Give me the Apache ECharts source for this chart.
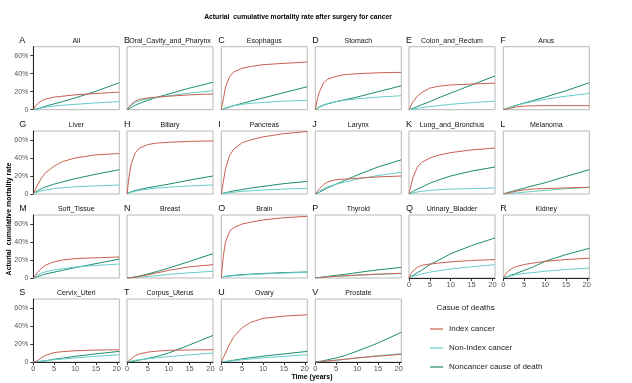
<!DOCTYPE html>
<html><head><meta charset="utf-8">
<script src="https://cdn.jsdelivr.net/npm/echarts@6/dist/echarts.min.js"></script>
<style>html,body{margin:0;padding:0;background:#fff}#c{width:632px;height:383px}</style>
</head><body><div id="c"></div>
<script>
// ---- data ----
const times = [0, 0.5, 1, 2, 3, 5, 7, 10, 15, 20.6];
const panelNames = ['All','Oral_Cavity_and_Pharynx','Esophagus','Stomach','Colon_and_Rectum','Anus',
  'Liver','Biliary','Pancreas','Larynx','Lung_and_Bronchus','Melanoma',
  'Soft_Tissue','Breast','Brain','Thyroid','Urinary_Bladder','Kidney',
  'Cervix_Uteri','Corpus_Uterus','Ovary','Prostate'];
const panelLetters = ['A','B','C','D','E','F','G','H','I','J','K','L','M','N','O','P','Q','R','S','T','U','V'];
const seriesNames = ['Index cancer','Non-Index cancer','Noncancer cause of death'];
const yTicks = [0, 20, 40, 60];
const xTicks = [0, 5, 10, 15, 20];

const indexCancer = [
  [0,4,6.5,10,12,14,15,16.5,18,19.5],
  [0,3,6,9.5,11.5,13,14,15,16.5,17.5],
  [0,12,25,37,42,46,48,50,51.5,53],
  [0,12,20,30,34,37,39,40,41,41.5],
  [0,5,9,15,19,24,26,27.5,28.5,29.5],
  [0,0.5,1,2,3,4,4.3,4.5,4.5,4.5],
  [0,5,10,18,24,31,36,40,43.5,45],
  [0,20,33,46,51,55,56.5,57.5,58.5,59],
  [0,14,28,43,50,57,60,63.5,67,69.5],
  [0,3,6,10.5,13.5,16,16.5,17.5,19,20],
  [0,10,19,30,35,40,43,46,49,51],
  [0,0.5,1,2,3,4.5,5.5,6,6.8,7.5],
  [0,3,6,11,14.5,18,20,21.5,22.5,23.3],
  [0,0.1,0.3,1,1.8,3.5,5.5,8.5,12.5,14.8],
  [0,25,40,52,56,60,62,64.5,67,68.5],
  [0,0.2,0.4,0.8,1.2,2,2.5,3.3,4.3,5.2],
  [0,5,8,12,14,15.5,16.5,18,19.5,20.5],
  [0,4,7,10.5,12.5,15,16.5,18.5,20.5,22],
  [0,0.5,1.5,5,7.5,10.5,11.5,12.5,13.2,13.6],
  [0,1.5,3.5,7,9,11,12,13,13.4,13.6],
  [0,5,10,20,28,38,44,48.5,51,52.5],
  [0,0.1,0.3,0.7,1.2,2,3,4.5,6.5,8.5]
];
const nonIndexCancer = [
  [0,0.5,1,2,2.7,4,5,6,7.5,9],
  [0,2.5,5,8,10,12,13.5,15.5,18.5,21],
  [0,1,2,3.5,4.5,6,7,8,9.5,10.5],
  [0,2,3.5,5.5,7,9,10.5,12,14,15.5],
  [0,0.3,0.7,1.5,2.2,3.5,4.5,6,7.8,9.5],
  [0,0.8,1.6,3.2,4.5,7,9,11.5,15,18],
  [0,1,2,3.5,4.5,6,7,8,9,10],
  [0,1,2,3,4,5.5,6.5,7.5,9,10],
  [0,0.5,1,1.5,2,3,3.5,4.5,5.5,6.3],
  [0,1.5,3,6,8,11,13,16.5,20.5,24],
  [0,0.7,1.3,2.2,3,4,4.7,5.5,6,6.7],
  [0,0.2,0.4,0.8,1.2,2,2.8,4,5.8,7.5],
  [0,2,3.5,5.5,7,9,10.5,12,14,15.5],
  [0,0.1,0.2,0.5,1,1.8,2.5,4,5.8,7.4],
  [0,1,1.5,2,2.5,3.2,3.8,4.5,5.5,6.3],
  [0,0.3,0.6,1,1.3,1.8,2.2,3,4,5],
  [0,1,2,3.2,4.5,6.5,8,10,12.5,14.8],
  [0,1,1.5,2.5,3.5,5,6,7.5,9.5,11],
  [0,0.2,0.5,1,1.5,2.5,3.2,4.5,6.3,8],
  [0,0.5,1,2,2.5,3.5,4.5,6,8,10],
  [0,0.3,0.6,1,1.5,2.5,3.3,4.5,6.3,8],
  [0,0.2,0.4,0.8,1.2,2,3,4.5,7,9.3]
];
const noncancerDeath = [
  [0,0.5,1,2.5,4,6.5,9,13,20.5,30],
  [0,1,2.5,5,7,10.5,13.5,17.5,24,30.5],
  [0,0.5,1.5,3,4.5,7,9.5,13,19,25.5],
  [0,1.5,3,5,6.5,9,11,14,20,26.5],
  [0,0.8,1.6,3.5,5.5,9,13,18.5,27.5,37.5],
  [0,0.8,1.6,3.2,4.8,7.5,10,14,21,30],
  [0,2,3.5,6,8,11,13.5,17,22,27],
  [0,1.5,2.5,4,5,7,8.5,11,15.5,20],
  [0,1,1.5,2.5,3.5,5,6.5,8.5,11.5,14],
  [0,1,2,4.5,7,11,15,21,30,38],
  [0,1.5,3,5.5,7.5,12,15.5,20,25.5,30],
  [0,0.8,1.6,2.8,4,6.5,9,12.5,19.5,27],
  [0,0.7,1.5,3,4.5,6.5,8.5,11.5,16,21],
  [0,0.2,0.5,1.3,2.2,4.5,7,11,18.5,27],
  [0,1,2,2.5,3,3.8,4.3,5,6,6.7],
  [0,0.3,0.6,1.2,1.8,3,4,6,9,11.8],
  [0,1.5,3,6,8.5,15,19.5,27,36,44.5],
  [0,0.8,1.6,3.5,5,8.5,12,18.5,26,33],
  [0,0.1,0.3,0.8,1.5,3,4.3,6.3,9,11.8],
  [0,0.2,0.5,1.2,2.2,4,6,10,19,29.5],
  [0,0.3,0.6,1.2,2,3.5,4.8,6.5,9,11.8],
  [0,0.3,0.6,1.5,2.5,4.5,7,12,21,33]
];

// ---- layout / style ----
const colors = ['#C8614F', '#66CCC6', '#1E8C6C'];
const colLeft = [33.3, 127, 221.3, 315.3, 409, 503.3];
const rowTop = [46.7, 131, 215, 299];
const pw = 86, ph = 63;
const FONT = 'Liberation Sans, Arial, sans-serif';

const grids = [], xAxes = [], yAxes = [], series = [], graphics = [];
const allData = [indexCancer, nonIndexCancer, noncancerDeath];

panelNames.forEach((name, i) => {
  const r = Math.floor(i / 6), c = i % 6;
  const left = colLeft[c], top = rowTop[r];
  const showX = (r === 3) || (r === 2 && c >= 4);
  const showY = c === 0;
  grids.push({left: left, top: top, width: pw, height: ph, show: true,
    borderColor: '#b8b8b8', borderWidth: 1, backgroundColor: '#fff', containLabel: false});
  xAxes.push({type: 'value', gridIndex: i, min: 0, max: 20.6,
    axisLine: {show: showX, onZero: false, lineStyle: {color: '#222', width: 1}},
    axisTick: {show: showX, length: 3, customValues: xTicks, lineStyle: {color: '#333'}},
    axisLabel: {show: showX, customValues: xTicks, margin: 3, fontSize: 7.5, color: '#555', fontFamily: FONT},
    splitLine: {show: false}});
  yAxes.push({type: 'value', gridIndex: i, min: 0, max: 70,
    axisLine: {show: showY, onZero: false, lineStyle: {color: '#222', width: 1}},
    axisTick: {show: showY, length: 3, customValues: yTicks, lineStyle: {color: '#333'}},
    axisLabel: {show: showY, customValues: yTicks, margin: 5, fontSize: 7, color: '#555', fontFamily: FONT,
      formatter: v => v === 0 ? '0' : v + '%'},
    splitLine: {show: false}});
  allData.forEach((arr, k) => {
    series.push({type: 'line', name: seriesNames[k], xAxisIndex: i, yAxisIndex: i,
      data: times.map((t, j) => [t, arr[i][j]]),
      symbol: 'none', smooth: false,
      lineStyle: {color: colors[k], width: 1}, itemStyle: {color: colors[k]},
      z: 3 - k, animation: false});
  });
  graphics.push({type: 'text', x: left - 3 - (c === 0 ? 11 : 0), y: top - 6.5,
    style: {text: panelLetters[i], font: '9px ' + FONT, fill: '#111', textVerticalAlign: 'middle'}});
  graphics.push({type: 'text', x: left + pw / 2, y: top - 6,
    style: {text: name, font: '7px ' + FONT, fill: '#111', textAlign: 'center', textVerticalAlign: 'middle'}});
});

graphics.push({type: 'text', x: 298, y: 17,
  style: {text: 'Acturial  cumulative mortality rate after surgery for cancer', font: 'bold 6.8px ' + FONT,
    fill: '#000', textAlign: 'center', textVerticalAlign: 'middle'}});
graphics.push({type: 'text', x: 312, y: 377,
  style: {text: 'Time (years)', font: 'bold 7px ' + FONT, fill: '#000', textAlign: 'center', textVerticalAlign: 'middle'}});
graphics.push({type: 'text', x: 9.5, y: 219, rotation: Math.PI / 2,
  style: {text: 'Acturial  cumulative mortality rate', font: 'bold 7px ' + FONT, fill: '#000',
    textAlign: 'center', textVerticalAlign: 'middle'}});
graphics.push({type: 'text', x: 436.5, y: 307.5,
  style: {text: 'Casue of deaths', font: '8px ' + FONT, fill: '#222', textVerticalAlign: 'middle'}});

const chart = echarts.init(document.getElementById('c'), null, {renderer: 'canvas'});
chart.setOption({
  animation: false,
  backgroundColor: '#fff',
  grid: grids, xAxis: xAxes, yAxis: yAxes, series: series,
  legend: {data: seriesNames, orient: 'vertical', left: 425, top: 320, icon: 'rect', itemWidth: 13, itemHeight: 1.2,
    itemGap: 11, selectedMode: false, textStyle: {fontSize: 8, color: '#222', fontFamily: FONT, padding: [0, 0, 0, 1]}},
  graphic: graphics
});
</script></body></html>
